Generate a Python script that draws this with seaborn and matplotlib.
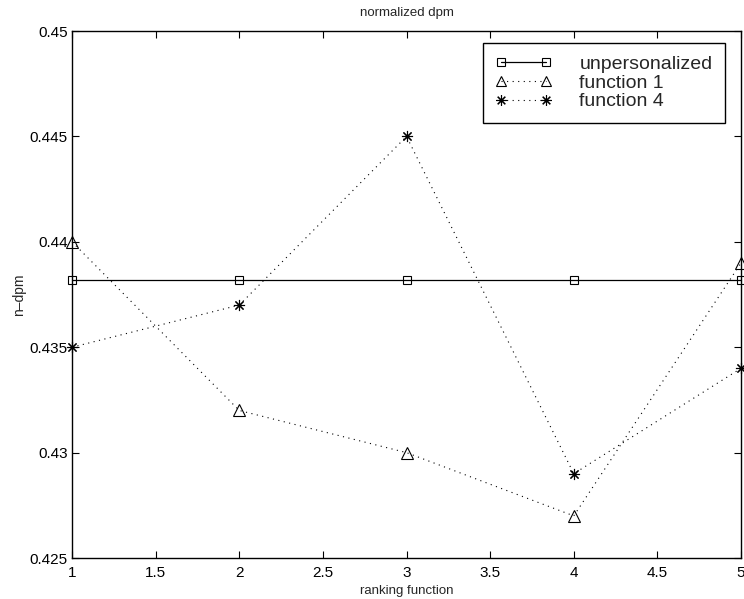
import matplotlib
matplotlib.use("Agg")
import matplotlib.pyplot as plt
import seaborn as sns

# ranking function index
ranks = [1, 2, 3, 4, 5]

# normalized dpm values per method
unpersonalized = [0.4382, 0.4382, 0.4382, 0.4382, 0.4382]
function_1 = [0.440, 0.432, 0.430, 0.427, 0.439]
function_4 = [0.435, 0.437, 0.445, 0.429, 0.434]

x_ticks = [1, 1.5, 2, 2.5, 3, 3.5, 4, 4.5, 5]
x_tick_labels = ["1", "1.5", "2", "2.5", "3", "3.5", "4", "4.5", "5"]
y_ticks = [0.425, 0.43, 0.435, 0.44, 0.445, 0.45]
y_tick_labels = ["0.425", "0.43", "0.435", "0.44", "0.445", "0.45"]

sns.set_style("ticks")
plt.rcParams['font.family'] = ['Liberation Sans', 'DejaVu Sans']
plt.rcParams['xtick.direction'] = 'in'
plt.rcParams['ytick.direction'] = 'in'

fig = plt.figure(figsize=(7.44, 5.99), dpi=100)
ax = fig.add_axes([0.0968, 0.0684, 0.8992, 0.8798])

sns.lineplot(x=ranks, y=unpersonalized, ax=ax, color='black', linewidth=0.9,
             marker='s', markersize=6, markerfacecolor='none', markeredgecolor='black',
             markeredgewidth=0.8, label='unpersonalized', clip_on=False)
sns.lineplot(x=ranks, y=function_1, ax=ax, color='black', linewidth=0.8, linestyle=(0, (1, 4)),
             marker='^', markersize=8, markerfacecolor='none', markeredgecolor='black',
             markeredgewidth=0.8, label='function 1', clip_on=False)
sns.lineplot(x=ranks, y=function_4, ax=ax, color='black', linewidth=0.8, linestyle=(0, (1, 4)),
             marker=(8, 2, 0), markersize=8, markeredgecolor='black',
             markeredgewidth=0.8, label='function 4', clip_on=False)

ax.set_xlim(1, 5)
ax.set_ylim(0.425, 0.45)
ax.set_xticks(x_ticks)
ax.set_xticklabels(x_tick_labels)
ax.set_yticks(y_ticks)
ax.set_yticklabels(y_tick_labels)
ax.tick_params(axis='both', which='both', direction='in', length=5, width=0.8,
               labelsize=11, top=True, right=True, pad=3, colors='black')
ax.tick_params(axis='x', pad=6)
for s in ax.spines.values():
    s.set_visible(True)
    s.set_linewidth(1.0)
    s.set_color('black')

ax.set_title('normalized dpm', fontsize=9.5, pad=11)
ax.set_xlabel('ranking function', fontsize=9.5, labelpad=3)
ax.set_ylabel('n\u2013dpm', fontsize=10, labelpad=3)

leg = ax.legend(loc='upper right', fontsize=14, frameon=True, fancybox=False,
                edgecolor='black', framealpha=1, borderpad=0.65, labelspacing=0.05,
                handlelength=2.9, handletextpad=1.4, borderaxespad=0, numpoints=2,
                markerscale=0.95, bbox_to_anchor=(0.9761, 0.9772))
leg.get_frame().set_linewidth(1.0)

fig.savefig('out.png', dpi=100)
